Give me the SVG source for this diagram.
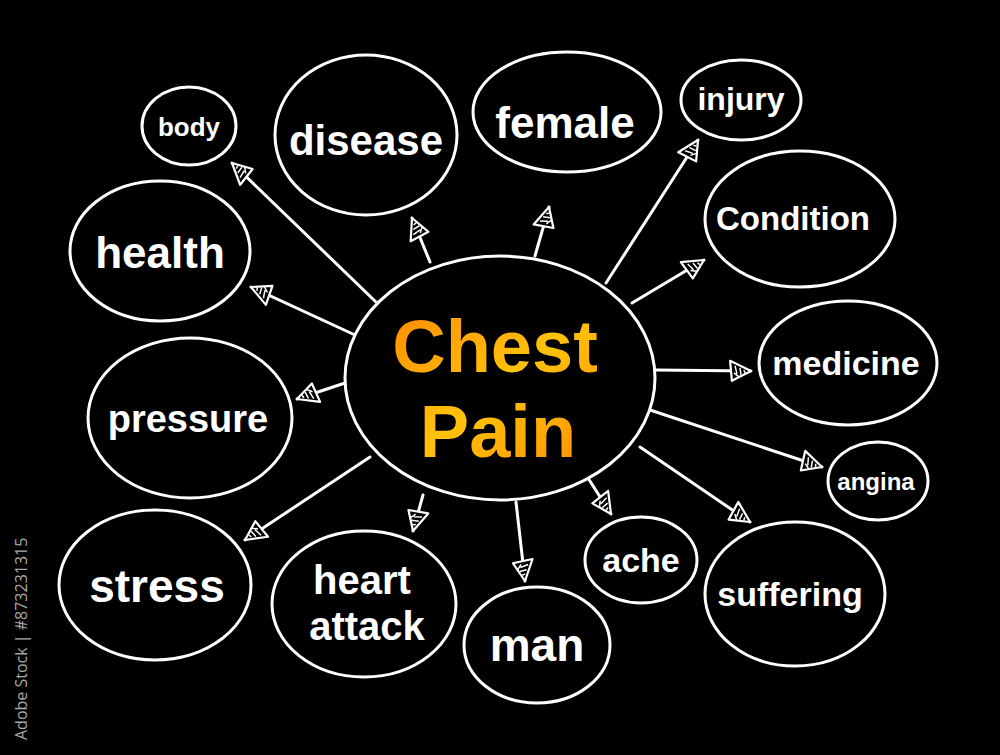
<svg xmlns="http://www.w3.org/2000/svg" width="1000" height="755" viewBox="0 0 1000 755">
<defs>
<style>
.n{fill:#000;stroke:#fff;stroke-width:3}
.t{fill:#fff;font-family:"Liberation Sans",Arial,sans-serif;font-weight:700;text-anchor:middle}
.c line{stroke:#fff;stroke-width:3;stroke-linecap:round}
</style>
<linearGradient id="og" x1="0" y1="0" x2="1" y2="1">
<stop offset="0" stop-color="#ff8a00"/>
<stop offset="0.5" stop-color="#ffc20a"/>
<stop offset="1" stop-color="#ff8c00"/>
</linearGradient>
<marker id="ah" viewBox="-24 -12 26 24" refX="0" refY="0" markerWidth="26" markerHeight="24" markerUnits="userSpaceOnUse" orient="auto">
<path d="M0,0 L-21,-10 L-19,10 Z" fill="#000" stroke="#fff" stroke-width="2.2" stroke-linejoin="round"/>
<path d="M-16,-5 L-14,3 M-11,-3 L-10,4 M-17,2 L-12,6 M-7,-1 L-6,2" stroke="#fff" stroke-width="1.5" fill="none"/>
</marker>
</defs>
<rect width="1000" height="755" fill="#000"/>
<g class="c" id="connectors">
<line x1="376" y1="302" x2="232" y2="163" marker-end="url(#ah)"/>
<line x1="430" y1="262" x2="412" y2="218" marker-end="url(#ah)"/>
<line x1="535" y1="256" x2="549" y2="207" marker-end="url(#ah)"/>
<line x1="606" y1="283" x2="698" y2="140" marker-end="url(#ah)"/>
<line x1="632" y1="303" x2="704" y2="260" marker-end="url(#ah)"/>
<line x1="656" y1="370" x2="751" y2="371" marker-end="url(#ah)"/>
<line x1="650" y1="410" x2="822" y2="467" marker-end="url(#ah)"/>
<line x1="640" y1="447" x2="750" y2="522" marker-end="url(#ah)"/>
<line x1="588" y1="478" x2="611" y2="514" marker-end="url(#ah)"/>
<line x1="516" y1="502" x2="525" y2="581" marker-end="url(#ah)"/>
<line x1="423" y1="495" x2="413" y2="531" marker-end="url(#ah)"/>
<line x1="370" y1="457" x2="245" y2="540" marker-end="url(#ah)"/>
<line x1="345" y1="383" x2="297" y2="399" marker-end="url(#ah)"/>
<line x1="355" y1="335" x2="251" y2="287" marker-end="url(#ah)"/>
</g>
<g id="center">
<ellipse class="n" cx="500" cy="378" rx="155" ry="122" stroke-width="4"/>
<text font-family="Liberation Sans,Arial,sans-serif" font-weight="700" font-size="74" text-anchor="middle" fill="url(#og)"><tspan x="495" y="372">Chest</tspan><tspan x="498" y="457">Pain</tspan></text>
</g>
<g id="body"><ellipse class="n" cx="189" cy="126" rx="47" ry="39"/><text class="t" x="189" y="136" font-size="26">body</text></g>
<g id="disease"><ellipse class="n" cx="366" cy="135" rx="91" ry="80"/><text class="t" x="366" y="155" font-size="42">disease</text></g>
<g id="female"><ellipse class="n" cx="567" cy="112" rx="94" ry="60"/><text class="t" x="565" y="138" font-size="44">female</text></g>
<g id="injury"><ellipse class="n" cx="741" cy="100" rx="60" ry="40"/><text class="t" x="741" y="110" font-size="32">injury</text></g>
<g id="condition"><ellipse class="n" cx="800" cy="219" rx="95" ry="68"/><text class="t" x="793" y="230" font-size="33">Condition</text></g>
<g id="medicine"><ellipse class="n" cx="848" cy="363" rx="89" ry="62"/><text class="t" x="846" y="375" font-size="34">medicine</text></g>
<g id="angina"><ellipse class="n" cx="878" cy="481" rx="50" ry="39"/><text class="t" x="876" y="490" font-size="24">angina</text></g>
<g id="suffering"><ellipse class="n" cx="795" cy="594" rx="90" ry="72"/><text class="t" x="790" y="606" font-size="34">suffering</text></g>
<g id="ache"><ellipse class="n" cx="641" cy="560" rx="56" ry="43"/><text class="t" x="641" y="572" font-size="34">ache</text></g>
<g id="man"><ellipse class="n" cx="537" cy="645" rx="73" ry="58"/><text class="t" x="537" y="661" font-size="46">man</text></g>
<g id="heart_attack"><ellipse class="n" cx="364" cy="604" rx="92" ry="73"/><text class="t" font-size="40"><tspan x="362" y="594">heart</tspan><tspan x="367" y="640">attack</tspan></text></g>
<g id="stress"><ellipse class="n" cx="155" cy="585" rx="96" ry="75"/><text class="t" x="157" y="602" font-size="46">stress</text></g>
<g id="pressure"><ellipse class="n" cx="190" cy="418" rx="102" ry="80"/><text class="t" x="188" y="432" font-size="38">pressure</text></g>
<g id="health"><ellipse class="n" cx="160" cy="251" rx="90" ry="70"/><text class="t" x="160" y="268" font-size="44">health</text></g>
<text x="0" y="0" transform="translate(27,740) rotate(-90)" font-family="Open Sans,Noto Sans,sans-serif" font-size="16" fill="#a8a8a8">Adobe Stock | #873231315</text>
</svg>
